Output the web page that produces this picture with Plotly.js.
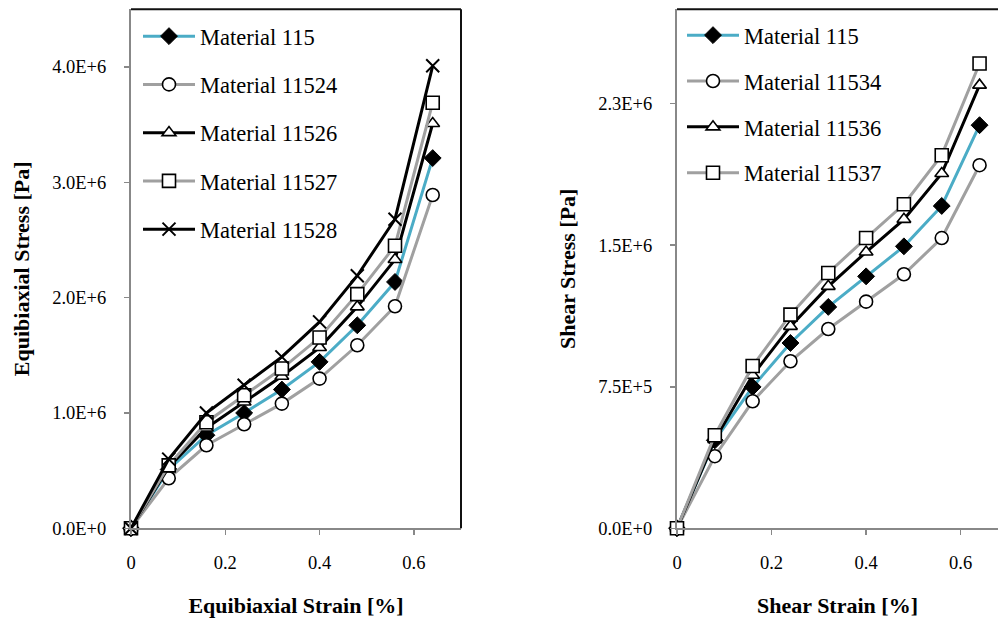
<!DOCTYPE html>
<html>
<head>
<meta charset="utf-8">
<script src="https://cdn.plot.ly/plotly-3.0.1.min.js"></script>
<style>
  html, body { margin: 0; padding: 0; background: #ffffff; overflow: hidden; }
  #chart { width: 998px; height: 621px; }
</style>
</head>
<body>
<div id="chart"></div>
<script>
// Strain steps shared by both tests
const strain = [0, 0.08, 0.16, 0.24, 0.32, 0.40, 0.48, 0.56, 0.64];

// Equibiaxial test: stress in Pa
const equiNames = ["Material 115", "Material 11524", "Material 11526", "Material 11527", "Material 11528"];
const equi115   = [0, 0.51e6, 0.807e6, 1.00e6, 1.203e6, 1.443e6, 1.76e6, 2.136e6, 3.21e6];
const equi11524 = [0, 0.434e6, 0.72e6, 0.902e6, 1.081e6, 1.298e6, 1.587e6, 1.925e6, 2.89e6];
const equi11526 = [0, 0.53e6, 0.87e6, 1.095e6, 1.318e6, 1.567e6, 1.92e6, 2.33e6, 3.51e6];
const equi11527 = [0, 0.546e6, 0.92e6, 1.153e6, 1.385e6, 1.654e6, 2.03e6, 2.45e6, 3.69e6];
const equi11528 = [0, 0.60e6, 1.00e6, 1.24e6, 1.486e6, 1.79e6, 2.19e6, 2.68e6, 4.01e6];

// Shear test: stress in Pa
const shearNames = ["Material 115", "Material 11534", "Material 11536", "Material 11537"];
const shear115   = [0, 0.466e6, 0.749e6, 0.982e6, 1.173e6, 1.335e6, 1.494e6, 1.708e6, 2.136e6];
const shear11534 = [0, 0.382e6, 0.673e6, 0.885e6, 1.056e6, 1.201e6, 1.346e6, 1.538e6, 1.924e6];
const shear11536 = [0, 0.47e6, 0.811e6, 1.07e6, 1.282e6, 1.464e6, 1.637e6, 1.88e6, 2.348e6];
const shear11537 = [0, 0.493e6, 0.86e6, 1.132e6, 1.353e6, 1.538e6, 1.717e6, 1.977e6, 2.463e6];

// Tick labels
const equiTickVals  = [0, 1e6, 2e6, 3e6, 4e6];
const equiTickText  = ["0.0E+0", "1.0E+6", "2.0E+6", "3.0E+6", "4.0E+6"];
const shearTickVals = [0, 7.5e5, 1.5e6, 2.25e6];
const shearTickText = ["0.0E+0", "7.5E+5", "1.5E+6", "2.3E+6"];

const TEAL = "#4BACC6", GRAY = "#A0A0A0", BLACK = "#000000";
const AXIS_GRAY = "#888888";

// Line/marker style per series slot
const styles = {
  diamond:  { line: TEAL,  marker: { symbol: "diamond",     size: 13, color: BLACK,   line: { color: BLACK, width: 1 } } },
  circle:   { line: GRAY,  marker: { symbol: "circle",      size: 13, color: "white", line: { color: BLACK, width: 1.6 } } },
  triangle: { line: BLACK, marker: { symbol: "triangle-up", size: 12, color: "white", line: { color: BLACK, width: 1.6 } } },
  square:   { line: GRAY,  marker: { symbol: "square",      size: 13, color: "white", line: { color: BLACK, width: 1.6 } } },
  cross:    { line: BLACK, marker: { symbol: "x-thin",      size: 13, color: BLACK,   line: { color: BLACK, width: 2 } } }
};

function series(name, y, style, xa, ya, legend, group) {
  const s = styles[style];
  return {
    type: "scatter", mode: "lines+markers",
    x: strain, y: y, name: name,
    xaxis: xa, yaxis: ya, legend: legend, legendgroup: group,
    cliponaxis: false,
    line: { color: s.line, width: 3 },
    marker: s.marker
  };
}

const traces = [
  series(equiNames[0], equi115,   "diamond",  "x",  "y",  "legend",  "e1"),
  series(equiNames[1], equi11524, "circle",   "x",  "y",  "legend",  "e2"),
  series(equiNames[2], equi11526, "triangle", "x",  "y",  "legend",  "e3"),
  series(equiNames[3], equi11527, "square",   "x",  "y",  "legend",  "e4"),
  series(equiNames[4], equi11528, "cross",    "x",  "y",  "legend",  "e5"),
  series(shearNames[0], shear115,   "diamond",  "x2", "y2", "legend2", "s1"),
  series(shearNames[1], shear11534, "circle",   "x2", "y2", "legend2", "s2"),
  series(shearNames[2], shear11536, "triangle", "x2", "y2", "legend2", "s3"),
  series(shearNames[3], shear11537, "square",   "x2", "y2", "legend2", "s4")
];

const W = 998, H = 621;
const tickFont   = { family: "Liberation Serif", size: 18.5, color: "#000" };
const titleFont  = { family: "Liberation Serif", size: 22, color: "#000", weight: "bold" };
const legendFont = { family: "Liberation Serif", size: 22.5, color: "#000" };

function xAxis(domain, range, title, anchor) {
  return {
    domain: domain, range: range, anchor: anchor,
    dtick: 0.2, tick0: 0,
    showgrid: false, zeroline: false,
    showline: true, linecolor: AXIS_GRAY, linewidth: 2,
    ticks: "outside", ticklen: 5, tickwidth: 1.5, tickcolor: AXIS_GRAY,
    ticklabelstandoff: 11,
    tickfont: tickFont,
    title: { text: title, font: titleFont, standoff: 26 }
  };
}
function yAxis(domain, range, vals, text, title, anchor) {
  return {
    domain: domain, range: range, anchor: anchor,
    tickmode: "array", tickvals: vals, ticktext: text,
    showgrid: false, zeroline: false,
    showline: true, linecolor: AXIS_GRAY, linewidth: 2,
    ticks: "outside", ticklen: 5, tickwidth: 1.5, tickcolor: AXIS_GRAY,
    ticklabelstandoff: 14,
    tickfont: tickFont,
    title: { text: title, font: titleFont, standoff: 16 }
  };
}

const yDom = [(H - 528.3) / H, (H - 9.3) / H];

const layout = {
  width: W, height: H,
  margin: { l: 0, r: 0, t: 0, b: 0 },
  paper_bgcolor: "#ffffff", plot_bgcolor: "#ffffff",
  showlegend: true,
  xaxis:  xAxis([131 / W, 461 / W], [0, 0.7], "Equibiaxial Strain [%]", "y"),
  yaxis:  yAxis(yDom, [0, 4.5e6], equiTickVals, equiTickText, "Equibiaxial Stress [Pa]", "x"),
  xaxis2: xAxis([677 / W, 1], [0, 0.679], "Shear Strain [%]", "y2"),
  yaxis2: yAxis(yDom, [0, 2.75e6], shearTickVals, shearTickText, "Shear Stress [Pa]", "x2"),
  legend: {
    x: 138 / W, y: 1 - 15 / H, xanchor: "left", yanchor: "top",
    bgcolor: "rgba(0,0,0,0)", borderwidth: 0,
    font: legendFont, itemwidth: 52, tracegroupgap: 16, traceorder: "grouped"
  },
  legend2: {
    x: 682 / W, y: 1 - 14 / H, xanchor: "left", yanchor: "top",
    bgcolor: "rgba(0,0,0,0)", borderwidth: 0,
    font: legendFont, itemwidth: 52, tracegroupgap: 13.6, traceorder: "grouped"
  },
  shapes: [
    // dark frame on the top and right edges of the equibiaxial plot
    { type: "line", xref: "x domain", yref: "y domain", x0: 0, x1: 1, y0: 1, y1: 1, line: { color: "#111", width: 2 } },
    { type: "line", xref: "x domain", yref: "y domain", x0: 1, x1: 1, y0: 0, y1: 1, line: { color: "#111", width: 2 } },
    // dark top edge of the shear plot
    { type: "line", xref: "x2 domain", yref: "y2 domain", x0: 0, x1: 1, y0: 1, y1: 1, line: { color: "#111", width: 2 } }
  ]
};

Plotly.newPlot("chart", traces, layout, { staticPlot: true, displayModeBar: false });
</script>
</body>
</html>
